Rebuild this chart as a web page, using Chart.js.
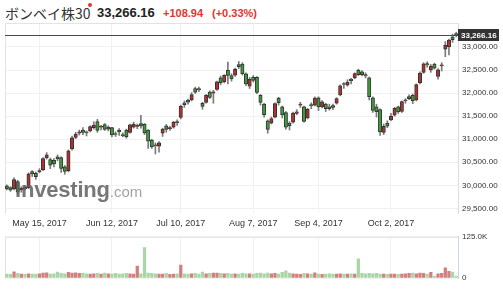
<!DOCTYPE html>
<html>
<head>
<meta charset="utf-8">
<script src="https://cdn.jsdelivr.net/npm/chart.js@4.4.0/dist/chart.umd.min.js"></script>
<style>
  body { margin: 0; width: 503px; height: 289px; overflow: hidden; background: #fff; position: relative;
         font-family: "Liberation Sans", Arial, sans-serif; }
  .hd { position: absolute; top: 3px; line-height: 20px; white-space: nowrap; }
  #name { left: 5px; font-family: "Noto Sans CJK JP", sans-serif; font-size: 14px; color: #333; }
  #dot { position: absolute; left: 88px; top: 3px; width: 4px; height: 4px; border-radius: 50%; background: #e3342f; }
  #last { left: 97px; font-size: 13px; font-weight: bold; color: #222; }
  #chg { left: 163px; font-size: 11px; font-weight: bold; color: #e3342f; }
  #pct { left: 212px; font-size: 11px; font-weight: bold; color: #e3342f; }
  canvas { position: absolute; left: 0; }
  #price { top: 0; }
  #vol { top: 228px; }
  #wm { position: absolute; left: 15px; top: 179px; line-height: 22px; white-space: nowrap; pointer-events: none; }
  #wm b { font-size: 22px; color: rgba(95,95,95,0.85); letter-spacing: -0.2px; }
  #wm span { font-size: 15px; color: rgba(140,140,140,0.8); }
</style>
</head>
<body>
<div class="hd" id="name">ボンベイ株30</div>
<div id="dot"></div>
<div class="hd" id="last">33,266.16</div>
<div class="hd" id="chg">+108.94</div>
<div class="hd" id="pct">(+0.33%)</div>
<canvas id="price" width="503" height="232"></canvas>
<canvas id="vol" width="503" height="61"></canvas>
<div id="wm"><b>Investing</b><span>.com</span></div>
<script>
// trading days, May 2 - Oct 30 2017
const dates = ['05-02','05-03','05-04','05-05','05-08','05-09','05-10','05-11','05-12','05-15','05-16','05-17','05-18','05-19','05-22','05-23','05-24','05-25','05-26','05-29','05-30','05-31',
  '06-01','06-02','06-05','06-06','06-07','06-08','06-09','06-12','06-13','06-14','06-15','06-16','06-19','06-20','06-21','06-22','06-23','06-27','06-28','06-29','06-30',
  '07-03','07-04','07-05','07-06','07-07','07-10','07-11','07-12','07-13','07-14','07-17','07-18','07-19','07-20','07-21','07-24','07-25','07-26','07-27','07-28','07-31',
  '08-01','08-02','08-03','08-04','08-07','08-08','08-09','08-10','08-11','08-14','08-16','08-17','08-18','08-21','08-22','08-23','08-24','08-28','08-29','08-30','08-31',
  '09-01','09-04','09-05','09-06','09-07','09-08','09-11','09-12','09-13','09-14','09-15','09-18','09-19','09-20','09-21','09-22','09-25','09-26','09-27','09-28','09-29',
  '10-03','10-04','10-05','10-06','10-09','10-10','10-11','10-12','10-13','10-16','10-17','10-18','10-19','10-23','10-24','10-25','10-26','10-27','10-30'];

const opens = [29990,29950,29920,30080,29900,29960,29950,30300,30260,30290,30340,30600,30560,30540,30620,30600,30400,30320,30790,31040,31130,31200,
  31150,31180,31250,31380,31260,31320,31220,31250,31120,31200,31100,31200,31150,31260,31280,31340,31330,31200,30980,30880,30850,
  31130,31290,31230,31260,31370,31470,31790,31850,31850,32100,32080,31780,31800,32020,32000,32080,32330,32250,32500,32380,32390,
  32620,32630,32420,32150,32350,32340,31950,31760,31400,31350,31480,31890,31700,31580,31350,31370,31560,31740,31700,31460,31750,
  31740,31900,31700,31760,31700,31730,31780,31960,32200,32170,32300,32330,32500,32460,32400,32330,31900,31700,31640,31150,31350,
  31420,31520,31700,31600,31830,31880,31950,31850,32220,32450,32640,32500,32630,32360,32590,32950,33000,33220,33290];
const highs = [30010,29970,30160,30110,29970,30000,30270,30320,30290,30360,30600,30710,30590,30580,30660,30620,30430,30770,31070,31150,31200,31250,
  31180,31290,31380,31430,31300,31340,31290,31260,31160,31230,31140,31220,31330,31370,31330,31520,31340,31210,31000,30920,30950,
  31240,31320,31280,31390,31420,31740,31830,31870,32010,32130,32130,31800,31970,32050,32060,32260,32370,32400,32672,32420,32540,
  32686,32660,32440,32340,32380,32360,31970,31780,31420,31480,31790,31910,31720,31600,31380,31590,31640,31800,31720,31670,31790,
  31920,31920,31840,31780,31760,31760,31900,32180,32230,32290,32320,32440,32520,32490,32440,32350,31920,31760,31660,31330,31400,
  31560,31690,31720,31830,31880,31960,31980,32200,32460,32660,32680,32620,32650,32530,32660,33117,33170,33280,33320];
const lows = [29900,29870,29900,29810,29850,29900,29930,30190,30130,30270,30320,30570,30360,30400,30530,30280,30240,30290,30760,31010,31090,31100,
  31070,31160,31220,31150,31200,31190,31180,31050,31060,31080,31050,31020,31130,31240,31230,31240,31100,30800,30800,30680,30720,
  31060,31150,31190,31240,31300,31440,31690,31760,31830,31990,32030,31650,31780,31880,31780,32060,32180,32220,32200,32260,32360,
  32530,32390,32160,32100,32240,31990,31740,31480,31130,31330,31460,31740,31460,31220,31200,31350,31530,31690,31370,31440,31660,
  31720,31620,31680,31600,31630,31640,31760,31940,32100,32150,32200,32310,32380,32370,32330,31850,31580,31480,31080,31100,31250,
  31400,31500,31560,31580,31780,31860,31770,31830,32200,32430,32560,32450,32520,32300,32480,32790,32830,33100,33220];
const closes = [29921,29894,30126,29859,29933,29926,30248,30250,30188,30322,30582,30659,30435,30465,30570,30365,30301,30750,31028,31109,31160,31146,
  31138,31273,31309,31190,31271,31213,31262,31095,31103,31156,31075,31056,31311,31330,31283,31290,31138,30958,30834,30857,30922,
  31221,31210,31245,31369,31361,31715,31747,31805,31970,32021,32075,31711,31955,31904,32029,32246,32228,32383,32383,32309,32515,
  32575,32420,32200,32300,32273,32014,31798,31531,31214,31449,31771,31795,31525,31259,31291,31568,31596,31750,31388,31646,31730,
  31892,31702,31809,31662,31663,31688,31882,32159,32186,32241,32272,32423,32402,32400,32370,31922,31626,31599,31159,31282,31283,
  31497,31671,31592,31814,31847,31924,31834,32182,32433,32633,32609,32584,32540,32506,32607,33043,33147,33157,33266.16];
// volume in thousands
const volumes = [12,11,19,14,12,12,13,12,12,13,15,16,12,13,18,14,13,17,15,16,14,15,
  13,12,13,14,12,15,13,12,14,12,13,14,13,12,36,13,92,15,14,13,12,
  12,14,11,12,13,39,13,12,13,14,12,18,13,14,15,15,14,13,14,12,13,
  12,14,13,13,12,14,15,13,15,13,14,12,17,22,15,13,12,11,14,13,12,
  16,12,11,12,13,12,12,13,12,12,13,12,58,14,13,14,13,14,12,12,11,
  12,12,11,12,13,14,15,13,15,14,12,17,6,13,14,31,20,18,6];

const tickDates = ['05-15','06-12','07-10','08-07','09-04','10-03'];
const tickLabels = ['May 15, 2017','Jun 12, 2017','Jul 10, 2017','Aug 7, 2017','Sep 4, 2017','Oct 2, 2017'];
const priceTicks = [29500, 30000, 30500, 31000, 31500, 32000, 32500, 33000];
const volumeTicks = [0, 125];
const lastPrice = closes[closes.length - 1];

const isUp = closes.map((c, i) => c >= opens[i]);
const font = 'Liberation Sans';
const gridColor = '#f1f1f1';

const keepDateTicks = scale => {
  scale.ticks = scale.ticks.filter(t => tickDates.includes(dates[t.value]));
};

// light frame on the left/top of the plot area
const frame = {
  id: 'frame',
  beforeDatasetsDraw(chart) {
    const { ctx, chartArea: a } = chart;
    ctx.save();
    ctx.strokeStyle = '#e3e3e3';
    ctx.lineWidth = 1;
    ctx.beginPath();
    ctx.moveTo(a.left + 0.5, a.bottom);
    ctx.lineTo(a.left + 0.5, a.top + 0.5);
    ctx.lineTo(a.right, a.top + 0.5);
    ctx.stroke();
    ctx.restore();
  }
};

// current price line and tag
const priceTag = {
  id: 'priceTag',
  afterDraw(chart) {
    const { ctx, chartArea: a } = chart;
    const y = Math.round(chart.scales.y.getPixelForValue(lastPrice)) + 0.5;
    ctx.save();
    ctx.strokeStyle = '#4a4a4a';
    ctx.lineWidth = 1;
    ctx.beginPath();
    ctx.moveTo(a.left, y);
    ctx.lineTo(a.right, y);
    ctx.stroke();
    ctx.fillStyle = '#333';
    ctx.fillRect(a.right, y - 6.5, 41, 12);
    ctx.fillStyle = '#fff';
    ctx.font = 'bold 8px "' + font + '"';
    ctx.textBaseline = 'middle';
    ctx.fillText(lastPrice.toLocaleString('en-US', { minimumFractionDigits: 2 }), a.right + 3, y);
    ctx.restore();
  }
};

new Chart(document.getElementById('price'), {
  type: 'bar',
  data: {
    labels: dates,
    datasets: [{
      data: opens.map((o, i) => [o, closes[i]]),
      backgroundColor: isUp.map(u => u ? '#b3322f' : '#3f9b3b'),
      borderColor: '#333',
      borderWidth: 1,
      borderSkipped: false,
      barThickness: 3.4,
      minBarLength: 1,
      grouped: false,
      order: 0
    }, {
      data: lows.map((l, i) => [l, highs[i]]),
      backgroundColor: '#7a7a7a',
      barThickness: 1,
      grouped: false,
      order: 1
    }]
  },
  options: {
    responsive: false,
    animation: false,
    layout: { padding: { left: 5, top: 23 } },
    plugins: { legend: { display: false }, tooltip: { enabled: false } },
    scales: {
      x: {
        grid: { offset: false, color: gridColor, drawTicks: false },
        border: { display: false },
        ticks: {
          autoSkip: false, maxRotation: 0, minRotation: 0, padding: 5,
          color: '#333', font: { family: font, size: 9 },
          callback: v => tickLabels[tickDates.indexOf(dates[v])]
        },
        afterBuildTicks: keepDateTicks,
        afterFit: s => { s.height = 19; }
      },
      y: {
        position: 'right',
        min: 29400,
        max: 33520,
        grid: { color: gridColor, drawTicks: false },
        border: { color: '#dcdcdc' },
        ticks: {
          autoSkip: false, padding: 4, color: '#333', font: { family: font, size: 8 },
          callback: v => v.toLocaleString('en-US', { minimumFractionDigits: 2 })
        },
        afterBuildTicks: s => { s.ticks = priceTicks.map(v => ({ value: v })); },
        afterFit: s => { s.width = 45; }
      }
    }
  },
  plugins: [frame, priceTag]
});

new Chart(document.getElementById('vol'), {
  type: 'bar',
  data: {
    labels: dates,
    datasets: [{
      data: volumes,
      backgroundColor: isUp.map(u => u ? '#d27f7d' : '#a9d6a6'),
      barThickness: 2.6
    }]
  },
  options: {
    responsive: false,
    animation: false,
    layout: { padding: { left: 5, top: 4, bottom: 11 } },
    plugins: { legend: { display: false }, tooltip: { enabled: false } },
    scales: {
      x: {
        grid: { offset: false, color: gridColor, drawTicks: false },
        border: { display: false },
        ticks: { display: false, autoSkip: false },
        afterBuildTicks: keepDateTicks,
        afterFit: s => { s.height = 0; }
      },
      y: {
        position: 'right',
        min: 0,
        max: 125,
        grid: { color: gridColor, drawTicks: false },
        border: { color: '#cdd6e4' },
        ticks: {
          autoSkip: false, padding: 4, color: '#333', font: { family: font, size: 8 },
          callback: v => v === 0 ? '0' : v.toFixed(1) + 'K'
        },
        afterBuildTicks: s => { s.ticks = volumeTicks.map(v => ({ value: v })); },
        afterFit: s => { s.width = 45; }
      }
    }
  },
  plugins: [frame]
});
</script>
</body>
</html>
